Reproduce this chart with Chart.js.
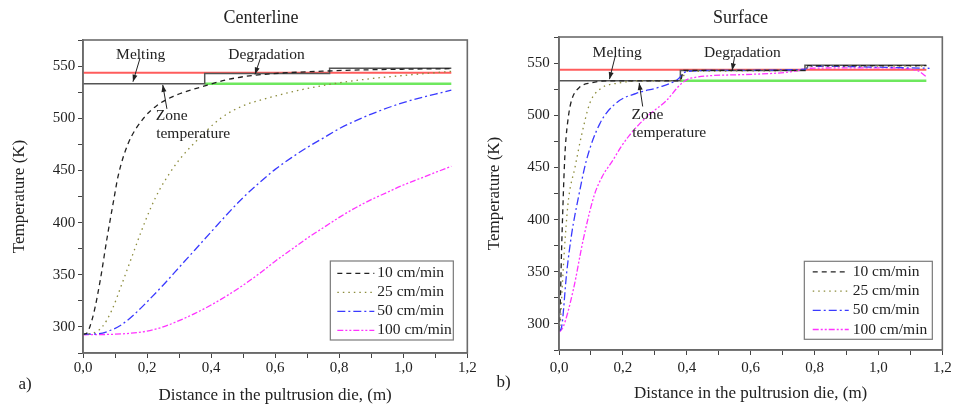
<!DOCTYPE html>
<html>
<head>
<meta charset="utf-8">
<script src="https://cdn.jsdelivr.net/npm/chart.js@4.4.1/dist/chart.umd.min.js"></script>
<style>
  body { margin: 0; background: #fff; }
  #wrap { position: relative; width: 956px; height: 407px; }
  canvas { position: absolute; top: 0; }
  #left { left: 0; }
  #right { left: 478px; }
</style>
</head>
<body>
<div id="wrap">
  <canvas id="left" width="478" height="407"></canvas>
  <canvas id="right" width="478" height="407"></canvas>
</div>
<script>
// Centerline (x in m, T in K)
const cX10 = [0, 0.01, 0.02, 0.035, 0.054, 0.075, 0.095, 0.11, 0.14, 0.189, 0.23, 0.282, 0.38, 0.45, 0.53, 0.78, 1.0, 1.15];
const cT10 = [293, 293.5, 299, 315, 345, 385, 420, 445, 475, 500, 512, 521, 531, 537, 541, 545.5, 547, 547.5];
const cX25 = [0, 0.03, 0.06, 0.09, 0.12, 0.15, 0.18, 0.21, 0.24, 0.27, 0.3, 0.35, 0.43, 0.5, 0.573, 0.677, 0.78, 0.9, 1.0, 1.15];
const cT25 = [293, 294, 300, 316, 340, 365, 390, 413, 432, 447, 460, 477, 500, 512, 519, 527, 533, 538, 541, 545];
const cX50 = [0, 0.05, 0.08, 0.12, 0.16, 0.2, 0.25, 0.3, 0.35, 0.4, 0.45, 0.5, 0.55, 0.6, 0.65, 0.7, 0.75, 0.8, 0.854, 0.9, 1.0, 1.15];
const cT50 = [293, 293.5, 296, 302, 312, 324, 340, 357, 374, 391, 408, 424, 438, 451, 462, 472, 481, 490, 498, 504, 515, 527];
const cX100 = [0, 0.1, 0.15, 0.2, 0.25, 0.3, 0.35, 0.4, 0.45, 0.5, 0.55, 0.6, 0.65, 0.7, 0.75, 0.8, 0.85, 0.9, 0.95, 1.0, 1.05, 1.1, 1.15];
const cT100 = [292.5, 293, 294, 296, 300, 306, 313, 321, 330, 340, 351, 363, 374, 385, 395, 405, 414, 422, 429, 436, 442, 448, 454];

// Surface
const sX10 = [0, 0.004, 0.008, 0.012, 0.016, 0.02, 0.03, 0.04, 0.065, 0.1, 0.15, 0.38, 0.39, 0.77, 0.78, 1.15];
const sT10 = [293, 320, 370, 410, 445, 470, 500, 515, 527, 531, 533, 533, 543, 543, 547.5, 547.5];
const sX25 = [0, 0.005, 0.01, 0.02, 0.03, 0.05, 0.07, 0.097, 0.128, 0.19, 0.26, 0.38, 0.4, 0.77, 0.78, 1.15];
const sT25 = [293, 305, 335, 385, 420, 450, 480, 512, 525, 531, 533, 533.5, 542, 543, 547, 547];
const sX50 = [0, 0.008, 0.024, 0.04, 0.06, 0.086, 0.128, 0.18, 0.242, 0.315, 0.37, 0.4, 0.5, 0.77, 0.785, 1.16];
const sT50 = [293, 297, 349, 387, 420, 457, 492, 512, 521, 527, 534, 542, 543, 544, 547, 545];
const sX100 = [0, 0.013, 0.045, 0.076, 0.11, 0.135, 0.169, 0.195, 0.221, 0.25, 0.284, 0.336, 0.382, 0.412, 0.58, 0.735, 0.78, 1.0, 1.12, 1.15];
const sT100 = [292, 297, 333, 381, 423, 441, 457, 470, 481, 491, 501, 514, 530, 535.5, 539, 542, 545, 545.5, 543, 537];

// process limits (both panels)
const meltX = [0, 1.15], meltT = [543.5, 543.5];
const greenX = [0.38, 1.15], greenT = [533, 533];
const stepX = [0, 0.38, 0.38, 0.77, 0.77, 1.15];
const stepT = [533, 533, 543, 543, 548, 548];

const speeds = ['10 cm/min', '25 cm/min', '50 cm/min', '100 cm/min'];
const yLabelVals = [300, 350, 400, 450, 500, 550];

const pts = (xs, ys) => xs.map((x, i) => ({ x: x, y: ys[i] }));

function buildSets(x10, t10, x25, t25, x50, t50, x100, t100) {
  const curve = { fill: false, pointRadius: 0, borderWidth: 1.3, cubicInterpolationMode: 'monotone' };
  const flat = { fill: false, pointRadius: 0, tension: 0 };
  return [
    { ...curve, label: speeds[0], data: pts(x10, t10), borderColor: '#222222', borderDash: [5, 4] },
    { ...curve, label: speeds[1], data: pts(x25, t25), borderColor: '#8c8c3c', borderDash: [1.5, 4] },
    { ...curve, label: speeds[2], data: pts(x50, t50), borderColor: '#3a3aff', borderDash: [8, 3, 2, 3] },
    { ...curve, label: speeds[3], data: pts(x100, t100), borderColor: '#ff33ff', borderDash: [6, 2, 2, 2, 2, 2] },
    { ...flat, data: pts(stepX, stepT), borderColor: '#555555', borderWidth: 1.5 },
    { ...flat, data: pts(greenX, greenT), borderColor: '#6ee85e', borderWidth: 2.5 },
    { ...flat, data: pts(meltX, meltT), borderColor: '#ff5c5c', borderWidth: 2 }
  ];
}

// titles, notes, arrows and boxed legend
const panelDecor = {
  id: 'panelDecor',
  afterDraw(chart, args, o) {
    const { ctx, chartArea: a, scales: { x, y } } = chart;
    ctx.save();
    ctx.strokeStyle = '#6b6b6b';
    ctx.lineWidth = 1.6;
    ctx.strokeRect(a.left, a.top, a.right - a.left, a.bottom - a.top);

    ctx.fillStyle = '#222';
    ctx.textBaseline = 'middle';
    ctx.textAlign = 'center';
    ctx.font = '18px "Liberation Serif"';
    ctx.fillText(o.title, o.titleX, o.titleY);
    ctx.textAlign = 'left';
    ctx.font = '17px "Liberation Serif"';
    ctx.fillText(o.letter, o.letterX, o.letterY);

    ctx.font = '15.5px "Liberation Serif"';
    ctx.textAlign = 'center';
    o.notes.forEach(n => ctx.fillText(n.text, x.getPixelForValue(n.x), y.getPixelForValue(n.y)));

    ctx.strokeStyle = '#222';
    ctx.lineWidth = 1;
    o.arrows.forEach(r => {
      const x0 = x.getPixelForValue(r[0]), y0 = y.getPixelForValue(r[1]);
      const x1 = x.getPixelForValue(r[2]), y1 = y.getPixelForValue(r[3]);
      const ang = Math.atan2(y1 - y0, x1 - x0);
      ctx.beginPath(); ctx.moveTo(x0, y0); ctx.lineTo(x1, y1); ctx.stroke();
      ctx.beginPath();
      ctx.moveTo(x1, y1);
      ctx.lineTo(x1 - 7 * Math.cos(ang) + 2.5 * Math.sin(ang), y1 - 7 * Math.sin(ang) - 2.5 * Math.cos(ang));
      ctx.lineTo(x1 - 7 * Math.cos(ang) - 2.5 * Math.sin(ang), y1 - 7 * Math.sin(ang) + 2.5 * Math.cos(ang));
      ctx.closePath(); ctx.fill();
    });

    const L = o.legend;
    const bx = a.right - L.right - L.width, by = a.bottom - L.bottom - L.height;
    ctx.strokeStyle = '#7a7a7a';
    ctx.lineWidth = 1.2;
    ctx.strokeRect(bx, by, L.width, L.height);
    ctx.textAlign = 'left';
    chart.data.datasets.filter(d => d.label).forEach((d, i) => {
      const yy = by + L.first + i * L.gap;
      ctx.strokeStyle = d.borderColor;
      ctx.lineWidth = d.borderWidth;
      ctx.setLineDash(d.borderDash || []);
      ctx.beginPath(); ctx.moveTo(bx + L.lineStart, yy); ctx.lineTo(bx + L.lineEnd, yy); ctx.stroke();
      ctx.setLineDash([]);
      ctx.fillStyle = '#222';
      ctx.fillText(d.label, bx + L.textStart, yy);
    });
    ctx.restore();
  }
};

function makeChart(id, sets, p) {
  return new Chart(document.getElementById(id), {
    type: 'line',
    data: { datasets: sets },
    plugins: [panelDecor],
    options: {
      responsive: false,
      devicePixelRatio: 1,
      animation: false,
      layout: { padding: { top: p.top, right: p.right, bottom: 0, left: 0 } },
      plugins: {
        legend: { display: false },
        tooltip: { enabled: false },
        panelDecor: p.decor
      },
      scales: {
        x: {
          type: 'linear', min: 0, max: 1.2,
          afterFit: s => { s.height = p.xHeight; },
          border: { color: '#6b6b6b', width: 1.6 },
          grid: { drawOnChartArea: false, tickLength: 5, tickColor: '#444' },
          ticks: {
            stepSize: 0.1, autoSkip: false, maxRotation: 0, padding: p.xPad, color: '#222',
            font: { family: 'Liberation Serif', size: 15 },
            callback: v => Math.round(v * 10) % 2 === 0 ? v.toFixed(1).replace('.', ',') : ''
          },
          title: {
            display: true, text: 'Distance in the pultrusion die, (m)', color: '#222',
            font: { family: 'Liberation Serif', size: 17 }, padding: { top: 0, bottom: p.xTitlePad }
          }
        },
        y: {
          min: 275, max: 575,
          afterFit: s => { s.width = p.yWidth; },
          border: { color: '#6b6b6b', width: 1.6 },
          grid: { drawOnChartArea: false, tickLength: 5, tickColor: '#444' },
          ticks: {
            stepSize: 25, autoSkip: false, padding: p.yPad, color: '#222',
            font: { family: 'Liberation Serif', size: 15 },
            callback: v => yLabelVals.includes(v) ? String(v) : ''
          },
          title: {
            display: true, text: 'Temperature (K)', color: '#222',
            font: { family: 'Liberation Serif', size: 17 }, padding: { top: p.yTitlePad, bottom: 0 }
          }
        }
      }
    }
  });
}

makeChart('left', buildSets(cX10, cT10, cX25, cT25, cX50, cT50, cX100, cT100), {
  top: 40, right: 10, xHeight: 54, yWidth: 83, xPad: 1.3, yPad: 2.7, xTitlePad: 1.3, yTitlePad: 9,
  decor: {
    title: 'Centerline', titleX: 261, titleY: 18.3, letter: 'a)', letterX: 18.5, letterY: 385,
    notes: [
      { text: 'Melting', x: 0.18, y: 560.5 },
      { text: 'Degradation', x: 0.573, y: 561 },
      { text: 'Zone', x: 0.277, y: 502.5 },
      { text: 'temperature', x: 0.344, y: 485 }
    ],
    arrows: [[0.178, 557.5, 0.156, 535], [0.554, 557.5, 0.537, 542], [0.262, 509, 0.249, 532]],
    legend: { right: 14, bottom: 13, width: 123, height: 79, first: 12.3, gap: 19, lineStart: 7, lineEnd: 44, textStart: 47 }
  }
});

makeChart('right', buildSets(sX10, sT10, sX25, sT25, sX50, sT50, sX100, sT100), {
  top: 37, right: 12, xHeight: 57, yWidth: 81, xPad: 4.3, yPad: 4.3, xTitlePad: 3, yTitlePad: 6,
  decor: {
    title: 'Surface', titleX: 262.5, titleY: 18.3, letter: 'b)', letterX: 18.5, letterY: 383,
    notes: [
      { text: 'Melting', x: 0.182, y: 559.6 },
      { text: 'Degradation', x: 0.574, y: 559.6 },
      { text: 'Zone', x: 0.277, y: 500.4 },
      { text: 'temperature', x: 0.345, y: 482.8 }
    ],
    arrows: [[0.176, 556.5, 0.158, 534.6], [0.55, 556.5, 0.542, 543], [0.262, 508.4, 0.251, 531]],
    legend: { right: 10, bottom: 10.7, width: 128, height: 78, first: 10.6, gap: 19.2, lineStart: 8.4, lineEnd: 44.4, textStart: 48.4 }
  }
});
</script>
</body>
</html>
